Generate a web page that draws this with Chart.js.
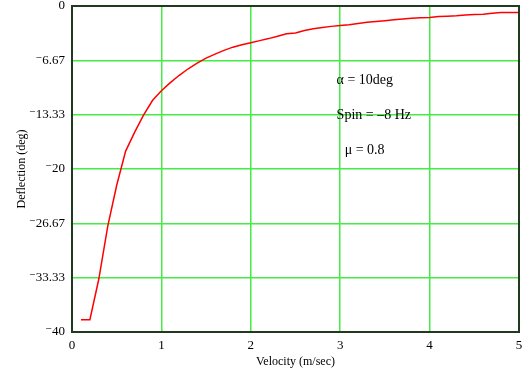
<!DOCTYPE html>
<html>
<head>
<meta charset="utf-8">
<script src="https://cdn.jsdelivr.net/npm/chart.js@4"></script>
<style>
  html, body { margin: 0; padding: 0; background: #fff; }
  #wrap { width: 532px; height: 374px; }
</style>
</head>
<body>
<div id="wrap"><canvas id="c" width="532" height="374"></canvas></div>
<script>
// velocity (m/sec) and deflection (deg)
const velocity = [0.1,0.2,0.3,0.4,0.5,0.6,0.7,0.8,0.9,1.0,
                  1.1,1.2,1.3,1.4,1.5,1.6,1.7,1.8,1.9,2.0,
                  2.1,2.2,2.3,2.4,2.5,2.6,2.7,2.8,2.9,3.0,
                  3.1,3.2,3.3,3.4,3.5,3.6,3.7,3.8,3.9,4.0,
                  4.1,4.2,4.3,4.4,4.5,4.6,4.7,4.8,4.9,5.0];
const deflection = [-38.5,-38.5,-33.5,-27.0,-22.0,-17.8,-15.5,-13.4,-11.6,-10.4,
                    -9.4,-8.5,-7.7,-7.0,-6.4,-5.9,-5.45,-5.05,-4.75,-4.5,
                    -4.25,-4.0,-3.7,-3.4,-3.3,-3.0,-2.8,-2.65,-2.5,-2.4,
                    -2.3,-2.15,-2.0,-1.9,-1.8,-1.7,-1.6,-1.5,-1.45,-1.4,
                    -1.3,-1.25,-1.2,-1.1,-1.05,-1.0,-0.9,-0.8,-0.8,-0.8];
const yTicks = [-40,-33.33,-26.67,-20,-13.33,-6.67,0];
const yTickLabels = ['\u207B40','\u207B33.33','\u207B26.67','\u207B20','\u207B13.33','\u207B6.67','0'];
const xTicks = [0,1,2,3,4,5];

// text block inside the plot: [x, y, text]
const notes = [
    [2.96, -9.1, '\u03B1 = 10deg'],
    [2.96, -13.4, 'Spin = \u20138 Hz'],
    [3.05, -17.7, '\u03BC = 0.8']
];

const serif = "'Liberation Serif', 'DejaVu Serif', serif";

const notesPlugin = {
    id: 'notes',
    afterDatasetsDraw(chart) {
        const ctx = chart.ctx;
        const xs = chart.scales.x, ys = chart.scales.y;
        ctx.save();
        ctx.font = '14px ' + serif;
        ctx.fillStyle = '#000';
        ctx.textAlign = 'left';
        ctx.textBaseline = 'middle';
        notes.forEach(n => {
            ctx.fillText(n[2], xs.getPixelForValue(n[0]), ys.getPixelForValue(n[1]));
        });
        ctx.restore();
    }
};

const frame = {
    id: 'frame',
    afterDraw(chart) {
        const a = chart.chartArea;
        const ctx = chart.ctx;
        ctx.save();
        ctx.strokeStyle = '#1f3a1f';
        ctx.lineWidth = 2;
        ctx.strokeRect(a.left, a.top, a.right - a.left, a.bottom - a.top);
        ctx.restore();
    }
};

const config = {
    type: 'line',
    data: {
        datasets: [{
            data: velocity.map((v, i) => ({x: v, y: deflection[i]})),
            borderColor: '#ff0000',
            borderWidth: 1.5,
            pointRadius: 0,
            tension: 0,
            fill: false
        }]
    },
    options: {
        responsive: false,
        animation: false,
        layout: { padding: { left: 0, right: 13, top: 6, bottom: 0 } },
        plugins: {
            legend: { display: false },
            tooltip: { enabled: false }
        },
        scales: {
            x: {
                type: 'linear',
                min: 0,
                max: 5,
                afterBuildTicks: s => { s.ticks = xTicks.map(v => ({value: v})); },
                afterFit: s => { s.height = 42; s.paddingLeft = 0; s.paddingRight = 0; },
                ticks: {
                    color: '#000',
                    padding: 6,
                    font: { family: serif, size: 13 }
                },
                grid: { color: '#44ec44', lineWidth: 1.5, drawTicks: false },
                border: { display: false },
                title: {
                    display: true,
                    text: 'Velocity (m/sec)',
                    color: '#000',
                    padding: { top: 2, bottom: 5 },
                    font: { family: serif, size: 12 }
                }
            },
            y: {
                type: 'linear',
                min: -40,
                max: 0,
                afterBuildTicks: s => { s.ticks = yTicks.map(v => ({value: v})); },
                afterFit: s => { s.width = 72; s.paddingTop = 0; s.paddingBottom = 0; },
                ticks: {
                    color: '#000',
                    padding: 7,
                    font: { family: serif, size: 13 },
                    callback: v => yTickLabels[yTicks.indexOf(v)]
                },
                grid: { color: '#44ec44', lineWidth: 1.5, drawTicks: false },
                border: { display: false },
                title: {
                    display: true,
                    text: 'Deflection (deg)',
                    color: '#000',
                    padding: { top: 15, bottom: 0 },
                    font: { family: serif, size: 12 }
                }
            }
        }
    },
    plugins: [notesPlugin, frame]
};

var myChart = new Chart(document.getElementById('c'), config);
</script>
</body>
</html>
